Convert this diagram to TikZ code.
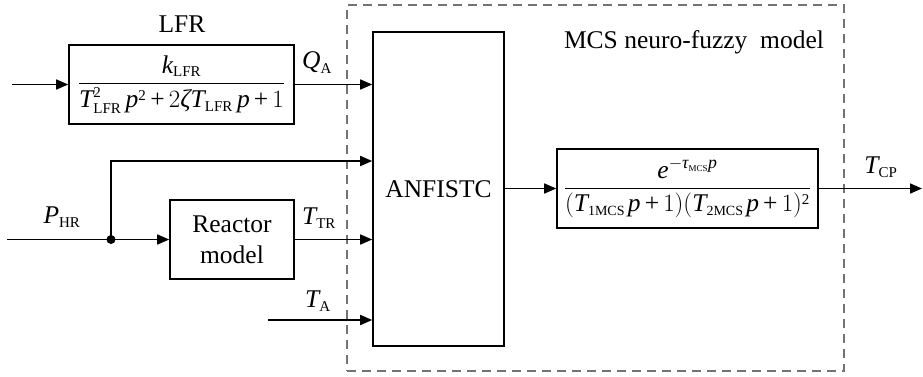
\documentclass[tikz,border=0pt]{standalone}
\usepackage{amsmath}
\usepackage{fontspec}
\setmainfont{Liberation Serif}
\usetikzlibrary{arrows.meta}
\newcommand\mi[1]{\textit{#1}}
\newcommand\sm[2]{\mbox{\fontsize{#1}{#1}\selectfont #2}}
\newcommand\pl{\mathbin{\mbox{+}}}
\begin{document}
\begin{tikzpicture}[x=1pt,y=-1pt,font=\rmfamily\fontsize{25.5}{31}\selectfont,
  blk/.style={draw,line width=1.6pt,inner sep=0pt},
  arr/.style={line width=1.6pt,-{Triangle[length=12pt,width=10pt]}},
  ln/.style={line width=1.6pt},
  lbl/.style={inner sep=0pt}]
\useasboundingbox (0,0) rectangle (923,376);
\medmuskip=3mu
\node[draw=gray!90!black,line width=1.5pt,dash pattern=on 9pt off 6pt,minimum width=497pt,minimum height=366pt,inner sep=0pt] (frame) at (595.5,188) {};
\node[lbl] (mcs) at (694,42) {MCS neuro-fuzzy\ \ model};
\node[lbl] (lfrlbl) at (182,24) {LFR};
\node[blk,minimum width=225pt,minimum height=79pt] (lfr) at (181.5,84.5)
  {$\dfrac{\mi{k}_{\sm{15}{LFR}}}{\mi{T}^{\sm{15}{2}}_{\sm{15}{LFR}}\,\mi{p}^{\sm{15}{2}}\pl 2\mi{ζ}\mi{T}_{\sm{15}{LFR}}\,\mi{p}\pl 1}$};
\node[blk,minimum width=131pt,minimum height=314pt] (anf) at (438.5,189) {ANFISTC};
\node[blk,minimum width=124pt,minimum height=79pt,align=center] (reac) at (232,239.5) {Reactor\\model};
\node[blk,minimum width=261pt,minimum height=79pt] (tf) at (687.5,188.5)
  {$\dfrac{\mi{e}^{-\mi{τ}_{\sm{9}{MCS}}\mi{p}}}{(\mi{T}_{\sm{14}{1MCS}}\mkern2mu\mi{p}\pl 1)(\mi{T}_{\sm{14}{2MCS}}\mkern2mu\mi{p}\pl 1)^{\sm{15}{2}}}$};
\node[lbl] (qa) at (317,63) {$\mi{Q}_{\sm{15}{A}}$};
\node[lbl] (phr) at (62,217) {$\mi{P}_{\sm{15}{HR}}$};
\node[lbl] (ttr) at (319,218) {$\mi{T}_{\sm{15}{TR}}$};
\node[lbl] (talbl) at (318,301) {$\mi{T}_{\sm{15}{A}}$};
\node[lbl] (tcp) at (881,167) {$\mi{T}_{\sm{15}{CP}}$};
\coordinate (in1) at (12,84.5);
\coordinate (pin) at (7,239.5);
\coordinate (bend) at (111,161);
\coordinate (ta) at (268,320);
\coordinate (out) at (922,188.5);
\node[circle,fill,inner sep=0pt,minimum size=9pt] (j) at (111,239.5) {};
\draw[arr] (in1) -- (lfr.west);
\draw[arr] (lfr.east) -- (lfr.east -| anf.west);
\draw[ln] (pin) -- (j.center);
\draw[arr] (j.center) -- (reac.west);
\draw[arr] (j.center) -- (bend) -- (bend -| anf.west);
\draw[arr] (reac.east) -- (reac.east -| anf.west);
\draw[arr] (ta) -- (ta -| anf.west);
\draw[arr] (anf.east |- tf.west) -- (tf.west);
\draw[arr] (tf.east) -- (out);
\end{tikzpicture}
\end{document}
